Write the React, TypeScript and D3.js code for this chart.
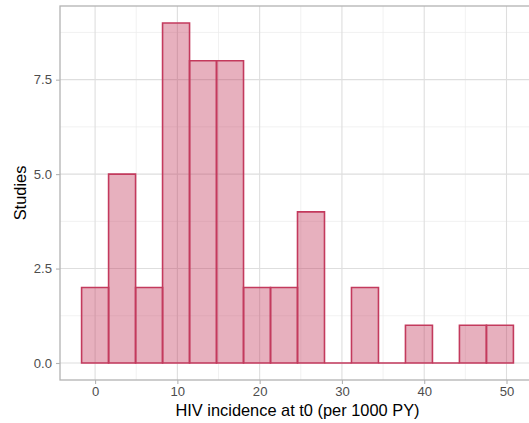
import { useEffect, useRef } from 'react';
import * as d3 from 'd3';

// histogram bins (ggplot-style, centred on multiples of the bin width)
const BIN_WIDTH = 3.28;
const BIN_CENTERS = [0, 1, 2, 3, 4, 5, 6, 7, 8, 9, 10, 11, 12, 13, 14, 15];
const COUNTS = [2, 5, 2, 9, 8, 8, 2, 2, 4, 0, 2, 0, 1, 0, 1, 1];
const X_TICKS = [0, 10, 20, 30, 40, 50];
const X_MINOR = [5, 15, 25, 35, 45];
const Y_TICKS = [0, 2.5, 5, 7.5];
const Y_MINOR = [1.25, 3.75, 6.25, 8.75];

const W = 529;
const H = 423;
const FILL = '#c33a5d';
const FONT = 'Liberation Sans, Arial, sans-serif';

export default function App() {
  const svgRef = useRef<SVGSVGElement>(null);

  useEffect(() => {
    if (!svgRef.current) return;
    document.body.style.margin = '0';

    const svg = d3.select(svgRef.current);
    svg.selectAll('*').remove();

    const panel = { left: 60, right: 535, top: 6, bottom: 380 };

    const bins = BIN_CENTERS.map((c, i) => ({
      x0: (c - 0.5) * BIN_WIDTH,
      x1: (c + 0.5) * BIN_WIDTH,
      count: COUNTS[i],
    }));

    const xMin = bins[0].x0;
    const xMax = bins[bins.length - 1].x1;
    const xPad = (xMax - xMin) * 0.05;
    const yMax = d3.max(COUNTS) ?? 0;
    const yPad = yMax * 0.05;

    const x = d3.scaleLinear()
      .domain([xMin - xPad, xMax + xPad])
      .range([panel.left, panel.right]);

    const y = d3.scaleLinear()
      .domain([-yPad, yMax + yPad])
      .range([panel.bottom, panel.top]);

    // Grid
    const grid = svg.append('g');
    grid.selectAll('.xminor')
      .data(X_MINOR)
      .join('line')
      .attr('x1', d => x(d)).attr('x2', d => x(d))
      .attr('y1', panel.top).attr('y2', panel.bottom)
      .attr('stroke', '#ebebeb').attr('stroke-width', 0.7);
    grid.selectAll('.yminor')
      .data(Y_MINOR)
      .join('line')
      .attr('x1', panel.left).attr('x2', panel.right)
      .attr('y1', d => y(d)).attr('y2', d => y(d))
      .attr('stroke', '#ebebeb').attr('stroke-width', 0.7);
    grid.selectAll('.xmajor')
      .data(X_TICKS)
      .join('line')
      .attr('x1', d => x(d)).attr('x2', d => x(d))
      .attr('y1', panel.top).attr('y2', panel.bottom)
      .attr('stroke', '#dedede').attr('stroke-width', 1.1);
    grid.selectAll('.ymajor')
      .data(Y_TICKS)
      .join('line')
      .attr('x1', panel.left).attr('x2', panel.right)
      .attr('y1', d => y(d)).attr('y2', d => y(d))
      .attr('stroke', '#dedede').attr('stroke-width', 1.1);

    // Bars (paths so that empty bins still show their baseline)
    svg.append('g')
      .selectAll('path')
      .data(bins)
      .join('path')
      .attr('d', d => {
        const p = d3.path();
        p.rect(x(d.x0), y(d.count), x(d.x1) - x(d.x0), y(0) - y(d.count));
        return p.toString();
      })
      .attr('fill', FILL)
      .attr('fill-opacity', 0.4)
      .attr('stroke', FILL)
      .attr('stroke-width', 1.6);

    // Panel border
    svg.append('rect')
      .attr('x', panel.left)
      .attr('y', panel.top)
      .attr('width', panel.right - panel.left)
      .attr('height', panel.bottom - panel.top)
      .attr('fill', 'none')
      .attr('stroke', '#b3b3b3')
      .attr('stroke-width', 1.3);

    // X axis
    const xAxis = svg.append('g')
      .attr('transform', `translate(0,${panel.bottom})`)
      .call(d3.axisBottom(x).tickValues(X_TICKS).tickSize(4).tickPadding(3).tickFormat(d => `${d}`));
    xAxis.select('.domain').remove();
    xAxis.selectAll('line').attr('stroke', '#b3b3b3').attr('stroke-width', 1.1);
    xAxis.selectAll('text')
      .style('fill', '#4d4d4d')
      .style('font-size', '13.1px')
      .style('font-family', FONT);

    // Y axis
    const yAxis = svg.append('g')
      .attr('transform', `translate(${panel.left},0)`)
      .call(d3.axisLeft(y).tickValues(Y_TICKS).tickSize(4).tickPadding(4).tickFormat(d3.format('.1f')));
    yAxis.select('.domain').remove();
    yAxis.selectAll('line').attr('stroke', '#b3b3b3').attr('stroke-width', 1.1);
    yAxis.selectAll('text')
      .style('fill', '#4d4d4d')
      .style('font-size', '13.1px')
      .style('font-family', FONT);

    // Axis titles
    svg.append('text')
      .attr('x', (panel.left + panel.right) / 2)
      .attr('y', 416)
      .attr('text-anchor', 'middle')
      .style('font-size', '16.4px')
      .style('font-family', FONT)
      .style('fill', '#000')
      .text('HIV incidence at t0 (per 1000 PY)');

    svg.append('text')
      .attr('transform', `translate(26,${(panel.top + panel.bottom) / 2}) rotate(-90)`)
      .attr('text-anchor', 'middle')
      .style('font-size', '16.4px')
      .style('font-family', FONT)
      .style('fill', '#000')
      .text('Studies');
  }, []);

  return (
    <svg ref={svgRef} width={W} height={H} style={{ display: 'block', background: '#fff' }} />
  );
}
